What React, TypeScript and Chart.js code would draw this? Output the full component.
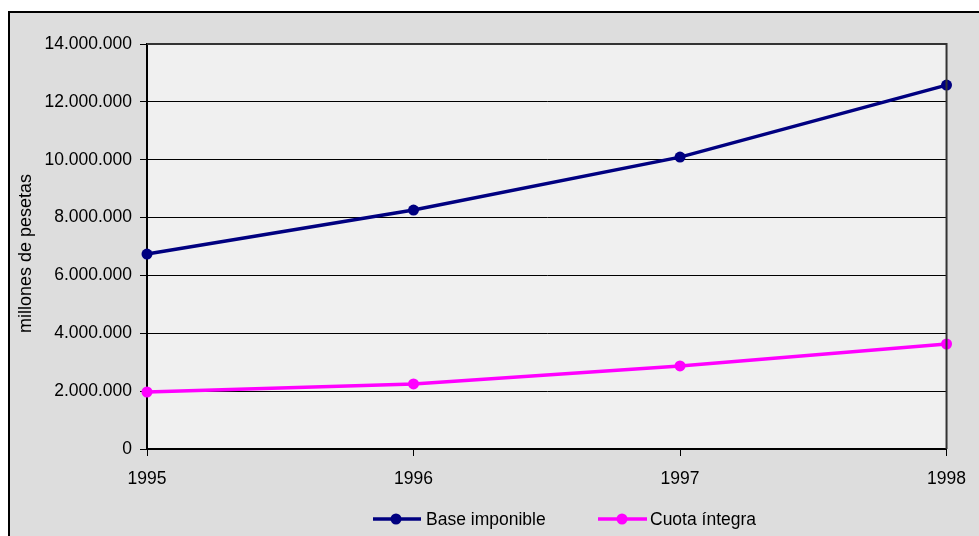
import React, { useEffect, useRef } from "react";
import { Chart, registerables } from "chart.js";

Chart.register(...registerables);

const years = ["1995", "1996", "1997", "1998"];
const baseImponible = [6740000, 8260000, 10090000, 12580000];
const cuotaIntegra = [1970000, 2250000, 2870000, 3630000];
const seriesNames = ["Base imponible", "Cuota íntegra"];
const seriesColors = ["#000080", "#ff00ff"];
const yTitle = "millones de pesetas";

const FONT = "'Liberation Sans', Arial, sans-serif";

function fmt(v: number): string {
  return String(Math.round(v)).replace(/\B(?=(\d{3})+(?!\d))/g, ".");
}

const decorPlugin = {
  id: "decor",
  beforeDraw(chart: any) {
    const { ctx, chartArea } = chart;
    ctx.save();
    ctx.fillStyle = "#f0f0f0";
    ctx.fillRect(chartArea.left, chartArea.top, chartArea.right - chartArea.left, chartArea.bottom - chartArea.top);
    ctx.restore();
  },
  afterDraw(chart: any) {
    const { ctx, chartArea } = chart;
    ctx.save();
    ctx.strokeStyle = "#333333";
    ctx.lineWidth = 2;
    ctx.beginPath();
    ctx.moveTo(chartArea.left, chartArea.top);
    ctx.lineTo(chartArea.right, chartArea.top);
    ctx.lineTo(chartArea.right, chartArea.bottom);
    ctx.stroke();
    ctx.fillStyle = "#000";
    ctx.font = `18px ${FONT}`;
    ctx.textAlign = "center";
    ctx.textBaseline = "middle";
    ctx.translate(16, (chartArea.top + chartArea.bottom) / 2 + 7);
    ctx.rotate(-Math.PI / 2);
    ctx.fillText(yTitle, 0, 0);
    ctx.restore();

    ctx.save();
    const ly = 506;
    const items = [
      { x0: 363, x1: 411, mx: 386, tx: 416 },
      { x0: 588, x1: 637, mx: 612, tx: 640 },
    ];
    items.forEach((it, i) => {
      ctx.strokeStyle = seriesColors[i];
      ctx.lineWidth = 3.5;
      ctx.beginPath();
      ctx.moveTo(it.x0, ly);
      ctx.lineTo(it.x1, ly);
      ctx.stroke();
      ctx.fillStyle = seriesColors[i];
      ctx.beginPath();
      ctx.arc(it.mx, ly, 5.5, 0, Math.PI * 2);
      ctx.fill();
      ctx.fillStyle = "#000";
      ctx.font = `17.5px ${FONT}`;
      ctx.textAlign = "left";
      ctx.textBaseline = "middle";
      ctx.fillText(seriesNames[i], it.tx, ly + 1);
    });
    ctx.restore();
  },
};

export default function App() {
  const ref = useRef<HTMLCanvasElement | null>(null);
  useEffect(() => {
    document.body.style.overflow = "hidden";
    const canvas = ref.current;
    if (!canvas) return;
    const chart = new Chart(canvas, {
      type: "line",
      data: {
        labels: years,
        datasets: [
          {
            label: seriesNames[0],
            data: baseImponible,
            borderColor: seriesColors[0],
            backgroundColor: seriesColors[0],
            borderWidth: 3.5,
            pointRadius: 5.5,
            pointBorderWidth: 0,
            tension: 0,
            clip: false as any,
          },
          {
            label: seriesNames[1],
            data: cuotaIntegra,
            borderColor: seriesColors[1],
            backgroundColor: seriesColors[1],
            borderWidth: 3.5,
            pointRadius: 5.5,
            pointBorderWidth: 0,
            tension: 0,
            clip: false as any,
          },
        ],
      },
      options: {
        animation: false,
        responsive: false,
        maintainAspectRatio: false,
        layout: { padding: { left: 0, top: 31, right: 32, bottom: 0 } },
        plugins: { legend: { display: false }, title: { display: false }, tooltip: { enabled: false } },
        scales: {
          x: {
            type: "category",
            offset: false,
            grid: { drawOnChartArea: false, drawTicks: true, tickLength: 7, color: "#000", lineWidth: 1 },
            border: { display: true, color: "#000", width: 2 },
            ticks: { color: "#000", font: { family: FONT, size: 17.5 }, padding: 13, maxRotation: 0, autoSkip: false },
            afterFit: (s: any) => { s.height = 87; },
          },
          y: {
            min: 0,
            max: 14000000,
            grid: { color: "#000", lineWidth: 1, tickLength: 7, drawTicks: true },
            border: { display: true, color: "#000", width: 2 },
            ticks: {
              stepSize: 2000000,
              color: "#000",
              font: { family: FONT, size: 17.5 },
              padding: 8,
              callback: (v: any) => fmt(Number(v)),
            },
            afterFit: (s: any) => { s.width = 137; },
          },
        },
      } as any,
      plugins: [decorPlugin],
    });
    return () => chart.destroy();
  }, []);

  return (
    <div
      style={{
        position: "fixed",
        left: 8,
        top: 11,
        width: 971,
        height: 525,
        boxSizing: "border-box",
        borderLeft: "2px solid #000",
        borderTop: "2px solid #000",
        background: "#dddddd",
        overflow: "hidden",
      }}
    >
      <canvas ref={ref} width={969} height={523} style={{ display: "block", width: 969, height: 523 }} />
    </div>
  );
}
